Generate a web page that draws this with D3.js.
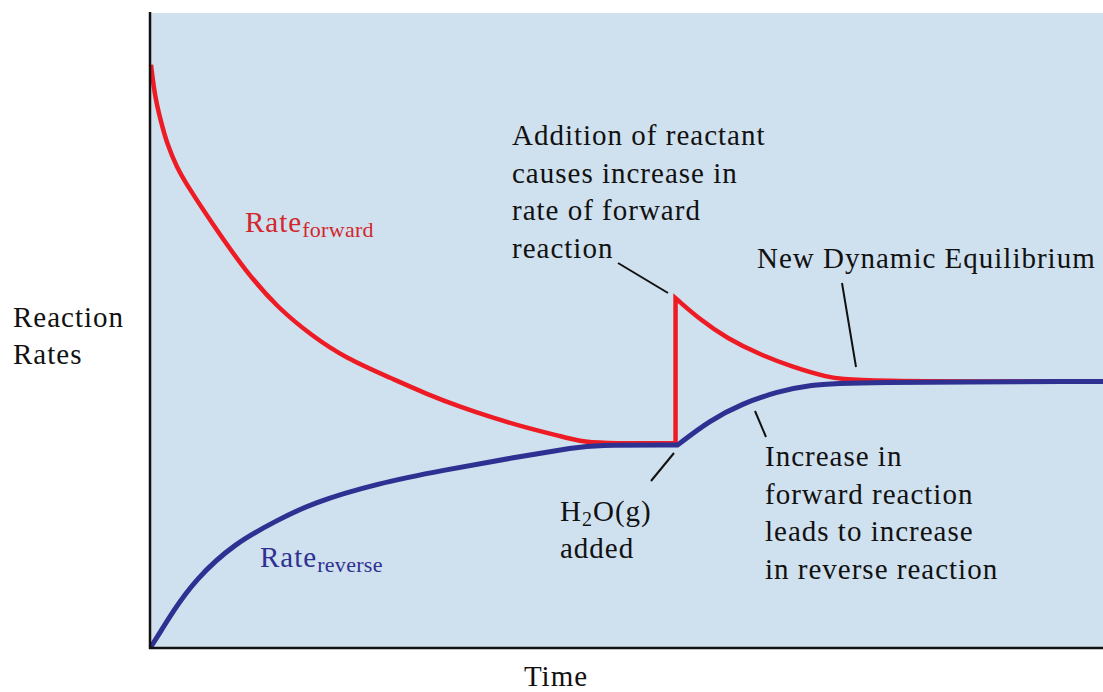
<!DOCTYPE html>
<html>
<head>
<meta charset="utf-8">
<script src="https://cdn.jsdelivr.net/npm/d3@7"></script>
<style>
  html, body { margin: 0; padding: 0; background: #ffffff; }
  svg { display: block; }
  text { font-family: "Liberation Serif", "Times New Roman", serif; }
</style>
</head>
<body>
<svg id="chart" width="1103" height="692"></svg>
<script>
// Time (0–100, arbitrary units) and reaction rate (0–100, arbitrary units)

// Forward rate before H2O(g) is added: decays to the first equilibrium
const forwardTimeA = [0, 0.4, 1.0, 1.7, 2.7, 3.9, 6.4, 9.9, 13.3, 16.9, 20.4, 25.4, 29.0, 32.5, 35.9, 39.5, 43.0, 45.1, 47.0, 55.1];
const forwardRateA = [91.7, 86.8, 83.0, 79.2, 75.6, 72.5, 66.8, 59.3, 53.5, 49.1, 45.6, 42.3, 39.9, 37.9, 36.2, 34.6, 33.3, 32.5, 32.2, 32.2];

// Forward rate after the reactant is added: jumps, then decays to the new equilibrium
const forwardTimeB = [55.1, 57.7, 60.5, 64.0, 67.4, 71.0, 73.7, 100];
const forwardRateB = [55.0, 51.6, 48.7, 46.1, 44.2, 42.6, 41.9, 41.9];

// Reverse rate: rises to the first equilibrium
const reverseTimeA = [0, 1.1, 2.2, 4.6, 8.8, 13.3, 16.9, 23.8, 30.9, 37.9, 44.9, 46.3, 55.3];
const reverseRateA = [0.2, 2.8, 5.5, 10.7, 16.5, 20.1, 22.8, 25.9, 28.0, 29.9, 31.6, 31.9, 31.9];

// Reverse rate after the disturbance: rises to the new equilibrium
const reverseTimeB = [55.3, 58.7, 62.2, 65.8, 69.2, 73.7, 100];
const reverseRateB = [31.9, 35.8, 38.5, 40.3, 41.4, 41.8, 41.9];

const axisLabels = { x: "Time", y: ["Reaction", "Rates"] };

const svg = d3.select("#chart");
const plot = { left: 150, right: 1103, top: 12, bottom: 648 };

const x = d3.scaleLinear().domain([0, 100]).range([plot.left + 1, plot.right]);
const y = d3.scaleLinear().domain([0, 100]).range([plot.bottom, plot.top]);

const RED = "#ed1c24", BLUE = "#2e3192";
const RED_TEXT = "#d3262d", BLUE_TEXT = "#2e3192";

// Plot panel
svg.append("rect")
  .attr("x", plot.left).attr("y", plot.top + 1)
  .attr("width", plot.right - plot.left).attr("height", plot.bottom - plot.top - 1)
  .attr("fill", "#cfe0ee");

const zip = (ts, vs) => ts.map((t, i) => ({ t, v: vs[i] }));
const line = d3.line().x(d => x(d.t)).y(d => y(d.v)).curve(d3.curveBasis);
// Two segments joined into one continuous path
const joined = (a, b) => line(a) + "L" + line(b).slice(1);

// Forward rate
svg.append("path")
  .attr("d", joined(zip(forwardTimeA, forwardRateA), zip(forwardTimeB, forwardRateB)))
  .attr("fill", "none").attr("stroke", RED).attr("stroke-width", 4.5)
  .attr("stroke-linejoin", "miter").attr("stroke-miterlimit", 10);

// Reverse rate
svg.append("path")
  .attr("d", joined(zip(reverseTimeA, reverseRateA), zip(reverseTimeB, reverseRateB)))
  .attr("fill", "none").attr("stroke", BLUE).attr("stroke-width", 5)
  .attr("stroke-linejoin", "round");

// Axes lines
svg.append("line")
  .attr("x1", plot.left).attr("x2", plot.left)
  .attr("y1", plot.top).attr("y2", plot.bottom + 1)
  .attr("stroke", "#111").attr("stroke-width", 2.5);
svg.append("line")
  .attr("x1", plot.left - 1).attr("x2", plot.right)
  .attr("y1", plot.bottom).attr("y2", plot.bottom)
  .attr("stroke", "#111").attr("stroke-width", 2.5);

const FS = 29, LS = 1;

// Axis titles
svg.append("text")
  .attr("x", 556).attr("y", 686).attr("text-anchor", "middle")
  .attr("font-size", FS).attr("letter-spacing", LS).attr("fill", "#111")
  .text(axisLabels.x);
const yt = svg.append("text").attr("font-size", FS).attr("letter-spacing", LS).attr("fill", "#111");
axisLabels.y.forEach((s, i) => yt.append("tspan").attr("x", 13).attr("y", 327 + i * 37).text(s));

// Series labels with subscripts
function rateLabel(px, py, sub, color) {
  const t = svg.append("text").attr("x", px).attr("y", py)
    .attr("font-size", FS).attr("letter-spacing", LS).attr("fill", color);
  t.append("tspan").text("Rate");
  t.append("tspan").attr("font-size", 22).attr("dy", 5).attr("letter-spacing", 0.3).text(sub);
}
rateLabel(245, 232, "forward", RED_TEXT);
rateLabel(260, 567, "reverse", BLUE_TEXT);

// Multi-line annotations
function note(px, py, lines) {
  const t = svg.append("text").attr("font-size", FS).attr("letter-spacing", LS).attr("fill", "#111");
  lines.forEach((s, i) => t.append("tspan").attr("x", px).attr("y", py + i * 37.6).text(s));
}
note(512, 145, ["Addition of reactant", "causes increase in", "rate of forward", "reaction"]);
note(757, 268, ["New Dynamic Equilibrium"]);
note(765, 466, ["Increase in", "forward reaction", "leads to increase", "in reverse reaction"]);

// H2O(g) added
const h = svg.append("text").attr("x", 560).attr("y", 521)
  .attr("font-size", FS).attr("letter-spacing", LS).attr("fill", "#111");
h.append("tspan").text("H");
h.append("tspan").attr("font-size", 20).attr("dy", 5).text("2");
h.append("tspan").attr("dy", -5).text("O(g)");
svg.append("text").attr("x", 560).attr("y", 558)
  .attr("font-size", FS).attr("letter-spacing", LS).attr("fill", "#111").text("added");

// Leader lines
const leaders = [
  [618, 263, 668, 293],
  [842, 283, 856, 367],
  [674, 453, 651, 481],
  [755, 411, 766, 437]
];
svg.selectAll("line.leader").data(leaders).enter().append("line")
  .attr("class", "leader")
  .attr("x1", d => d[0]).attr("y1", d => d[1])
  .attr("x2", d => d[2]).attr("y2", d => d[3])
  .attr("stroke", "#111").attr("stroke-width", 2);
</script>
</body>
</html>
